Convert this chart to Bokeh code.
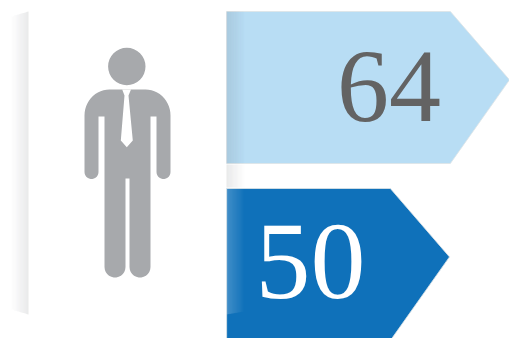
import numpy as np

from bokeh.core.properties import value
from bokeh.embed import file_html
from bokeh.models import ColumnDataSource, Range1d
from bokeh.plotting import figure
from bokeh.resources import INLINE

# Headcount callouts beside a male pictogram
labels = ["64", "50"]
counts = [64, 50]
fills = ["#B8DDF4", "#0F71BA"]
ink = ["#636363", "#FFFFFF"]

W, H = 509, 338
BASE = -2.0        # arrow bodies start just left of zero on the value scale
HEAD = 13.8        # arrow head length in value units
ARROW_TOPS = [11, 188]
ARROW_H = 152

p = figure(width=W, height=H, output_backend="svg", toolbar_location=None,
           x_range=Range1d(0, W), y_range=Range1d(H, 0),
           min_border=0, outline_line_color=None, background_fill_color="white",
           border_fill_color="white")
p.axis.visible = False
p.grid.visible = False
p.extra_x_ranges["count"] = Range1d(-54.76, 64)

# Shaded fold at the left of the white panel
steps = 17
for i in range(steps):
    x0 = 11 + i
    top0, top1 = 16 - i * 5 / steps, 16 - (i + 1) * 5 / steps
    bot0, bot1 = 309 + i * 5 / steps, 309 + (i + 1) * 5 / steps
    p.patch([x0, x0 + 1, x0 + 1, x0], [top0, top1, bot1, bot0],
            fill_color="#A7A9AC", fill_alpha=0.25 * (i + 1) / steps, line_color=None)

# Arrows, one per count
for n, top, fill in zip(counts, ARROW_TOPS, fills):
    src = ColumnDataSource(dict(
        x=[BASE, n - HEAD, n, n - HEAD, BASE],
        y=[top, top, top + ARROW_H * 0.45, top + ARROW_H, top + ARROW_H],
    ))
    p.patch("x", "y", source=src, x_range_name="count", fill_color=fill,
            line_color="#DDE3E6", line_width=1, line_alpha=0.8)

# Fold shading over the arrow roots and the gap between them
for i in range(18):
    a = 1 - i / 18
    x0 = 226 + i
    p.patch([x0, x0 + 1, x0 + 1, x0], [11, 11, 163, 163],
            fill_color="#6F7F8A", fill_alpha=0.2 * a, line_color=None)
    p.patch([x0, x0 + 1, x0 + 1, x0], [164, 164, 187, 187],
            fill_color="#A7A9AC", fill_alpha=0.25 * a, line_color=None)
    p.patch([x0, x0 + 1, x0 + 1, x0],
            [188, 188, 314 - i * 3 / 18, 314 - (i + 1) * 3 / 18],
            fill_color="#FFFFFF", fill_alpha=0.22 * a, line_color=None)


def arc(cx, cy, rx, ry, start, stop, n=14):
    t = np.radians(np.linspace(start, stop, n))
    return list(cx + rx * np.cos(t)), list(cy + ry * np.sin(t))


# Pictogram outline: shoulders, arms, torso and legs as one shape
grey = "#A7A9AC"
segments = [
    arc(109, 115, 25, 26, 180, 270),      # left shoulder
    arc(145, 115, 25, 26, 270, 360),      # right shoulder
    arc(163, 171.5, 7, 7, 0, 180),        # right hand
    ([156, 150], [116, 116]),             # right armpit
    arc(139.5, 266.5, 10.5, 10.5, 0, 180),  # right foot
    ([129, 125], [178, 178]),             # crotch
    arc(114.5, 266.5, 10.5, 10.5, 0, 180),  # left foot
    ([104, 98], [116, 116]),              # left armpit
    arc(91, 171.5, 7, 7, 0, 180),         # left hand
]
body_x = [x for xs, _ in segments for x in xs]
body_y = [y for _, ys in segments for y in ys]
p.patch(body_x, body_y, fill_color=grey, line_color=None)
p.circle(x=[126.3], y=[66], radius=18.7, fill_color=grey, line_color=None)

# Tie with its collar notch
p.patch([121.7, 130.5, 128, 132.3, 126.3, 120.3, 124],
        [89, 89, 95, 140, 146.7, 140, 95],
        fill_color="white", line_color=None)

# Count labels
p.text(x=[440.5], y=[86], text=labels[:1],
       text_color=ink[0], text_font=value("Liberation Serif"), text_font_size="104px",
       text_align="right", text_baseline="alphabetic")
p.text(x=[365], y=[261], text=labels[1:],
       text_color=ink[1], text_font=value("Liberation Serif"), text_font_size="110px",
       text_align="right", text_baseline="alphabetic")

open("out.html", "w").write(file_html(p, INLINE))
